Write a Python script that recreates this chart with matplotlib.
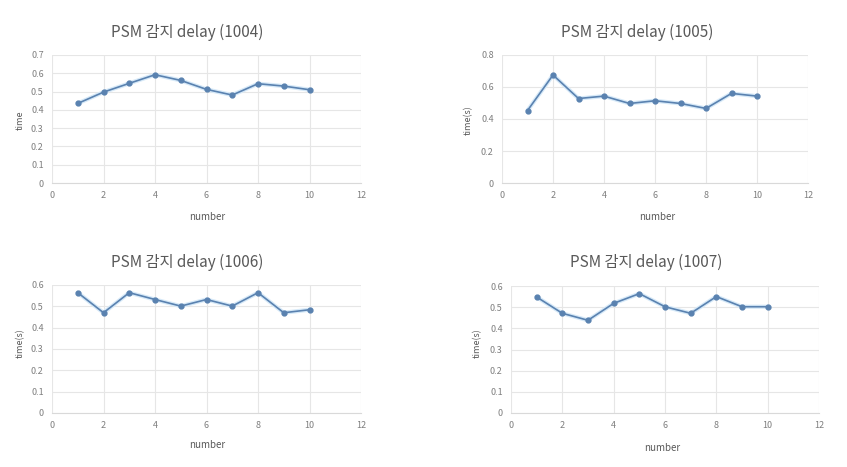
import matplotlib.pyplot as plt

plt.rcParams['font.family'] = ['Noto Sans CJK KR', 'DejaVu Sans']

number = [1, 2, 3, 4, 5, 6, 7, 8, 9, 10]

delay_1004 = [0.435, 0.497, 0.545, 0.592, 0.561, 0.512, 0.481, 0.543, 0.530, 0.510]
delay_1005 = [0.453, 0.675, 0.528, 0.543, 0.497, 0.514, 0.497, 0.466, 0.560, 0.543]
delay_1006 = [0.564, 0.470, 0.564, 0.532, 0.501, 0.532, 0.501, 0.564, 0.470, 0.484]
delay_1007 = [0.548, 0.471, 0.438, 0.518, 0.564, 0.502, 0.471, 0.550, 0.502, 0.502]

titles = ["PSM 감지 delay (1004)", "PSM 감지 delay (1005)",
          "PSM 감지 delay (1006)", "PSM 감지 delay (1007)"]
ylabels = ["time", "time(s)", "time(s)", "time(s)"]
series = [delay_1004, delay_1005, delay_1006, delay_1007]
ymax = [0.7, 0.8, 0.6, 0.6]
ystep = [0.1, 0.2, 0.1, 0.1]

W, H = 847, 467
fig = plt.figure(figsize=(W / 100, H / 100), dpi=100)

# pixel boxes (left, top, right, bottom) of the plot areas
boxes = [(52, 55, 361, 183), (502, 55, 808, 183),
         (52, 285, 361, 413), (511, 286, 819, 413)]
title_pos = [(187, 32), (637, 32), (187, 262), (646, 262)]
xlab_pos = [(207, 217), (657, 217), (207, 445), (662, 448)]
ylab_pos = [(20, 120), (468, 120), (20, 343), (477, 343)]

gray = '#595959'
for i in range(4):
    l, t, r, b = boxes[i]
    ax = fig.add_axes([l / W, 1 - b / H, (r - l) / W, (b - t) / H])
    # soft halo under the line, like the source image
    ax.plot(number, series[i], color='#d6e9f8', lw=3, solid_capstyle='round')
    ax.plot(number, series[i], color='#5a82b0', lw=1.2, marker='o', ms=3.5,
            markerfacecolor='#5a82b0', markeredgecolor='#5a82b0')
    ax.set_xlim(0, 12)
    ax.set_ylim(0, ymax[i])
    ax.set_xticks(range(0, 13, 2))
    n = int(round(ymax[i] / ystep[i]))
    yt = [round(k * ystep[i], 1) for k in range(n + 1)]
    ax.set_yticks(yt)
    ax.set_yticklabels(['0' if v == 0 else f'{v:g}' for v in yt])
    ax.grid(True, color='#e6e6e6', lw=0.8)
    ax.set_axisbelow(True)
    for s in ['top', 'right', 'left']:
        ax.spines[s].set_visible(False)
    ax.spines['bottom'].set_color('#d9d9d9')
    ax.tick_params(length=0, labelsize=6.5, colors='#7f7f7f', pad=6)

    fig.text(title_pos[i][0] / W, 1 - title_pos[i][1] / H, titles[i],
             ha='center', va='center', fontsize=11, color=gray)
    fig.text(xlab_pos[i][0] / W, 1 - xlab_pos[i][1] / H, 'number',
             ha='center', va='center', fontsize=7, color=gray)
    fig.text(ylab_pos[i][0] / W, 1 - ylab_pos[i][1] / H, ylabels[i],
             ha='center', va='center', fontsize=6.5, color=gray, rotation=90)

fig.savefig('out.png', dpi=100, facecolor='white')
